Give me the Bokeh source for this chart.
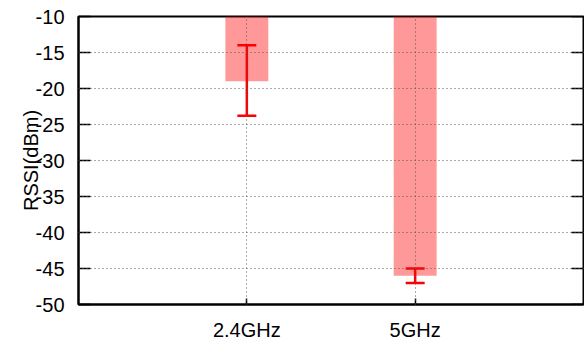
import math
from bokeh.plotting import figure
from bokeh.models import ColumnDataSource, FixedTicker, Whisker, TeeHead, Range1d
from bokeh.embed import file_html
from bokeh.resources import INLINE

# Mean RSSI per band with the spread of the measurements
bands = ["2.4GHz", "5GHz"]
rssi_mean = [-19, -46]
rssi_low = [-23.8, -47]
rssi_high = [-14, -45]
y_ticks = [-50, -45, -40, -35, -30, -25, -20, -15, -10]

FONT = "Liberation Sans"
xs = list(range(len(bands)))
x_lo, x_hi = -1, len(bands)

p = figure(width=584, height=343, output_backend="svg", toolbar_location=None,
           x_range=Range1d(x_lo, x_hi), y_range=Range1d(-50, -10),
           min_border_left=78, min_border_right=1, min_border_top=16,
           min_border_bottom=39)
p.background_fill_color = "white"
p.border_fill_color = "white"
p.outline_line_color = "black"
p.outline_line_width = 2

src = ColumnDataSource(dict(x=xs, mean=rssi_mean, low=rssi_low, high=rssi_high,
                            top=[0] * len(bands)))

# Bars hang from the top of the range down to the mean value
p.vbar(x="x", width=0.255, top="top", bottom="mean", source=src,
       fill_color="red", fill_alpha=0.4, line_color=None)

w = Whisker(source=src, base="x", lower="low", upper="high", dimension="height",
            line_color="red", line_width=2.5,
            upper_head=TeeHead(size=19, line_color="red", line_width=2.5),
            lower_head=TeeHead(size=19, line_color="red", line_width=2.5))
p.add_layout(w)

# Axes (plain hyphen-minus in tick labels)
p.xaxis.ticker = FixedTicker(ticks=xs)
p.xaxis.major_label_overrides = {i: b for i, b in enumerate(bands)}
p.yaxis.ticker = FixedTicker(ticks=y_ticks)
p.yaxis.major_label_overrides = {t: str(t) for t in y_ticks}
for ax in (p.xaxis[0], p.yaxis[0]):
    ax.axis_line_color = "black"
    ax.axis_line_width = 2
    ax.major_tick_line_color = "black"
    ax.major_tick_line_width = 1.5
    ax.major_tick_out = 0
    ax.minor_tick_line_color = None
    ax.major_label_text_font = FONT
    ax.major_label_text_color = "black"
p.yaxis.major_tick_in = 12
p.yaxis.major_label_text_font_size = "20px"
p.yaxis.major_label_standoff = 14
p.xaxis.major_tick_in = 6
p.xaxis.major_label_text_font_size = "20px"
p.xaxis.major_label_standoff = 14

p.yaxis.axis_label = "RSSI(dBm)"
p.yaxis.axis_label_text_font = FONT
p.yaxis.axis_label_text_font_size = "20px"
p.yaxis.axis_label_text_font_style = "normal"
p.yaxis.axis_label_text_color = "black"
p.yaxis.axis_label_standoff = -9

# Mirrored ticks on the right border
p.ray(x=[x_hi] * len(y_ticks), y=y_ticks, length=12, length_units="screen",
      angle=math.pi, line_color="black", line_width=1.5)

# Dotted grid
p.xgrid.ticker = FixedTicker(ticks=xs)
p.ygrid.ticker = FixedTicker(ticks=y_ticks)
for g in (p.xgrid[0], p.ygrid[0]):
    g.grid_line_color = "#555555"
    g.grid_line_dash = "1 3"
    g.grid_line_width = 1
    g.level = "overlay"

open("out.html", "w").write(file_html(p, INLINE))
